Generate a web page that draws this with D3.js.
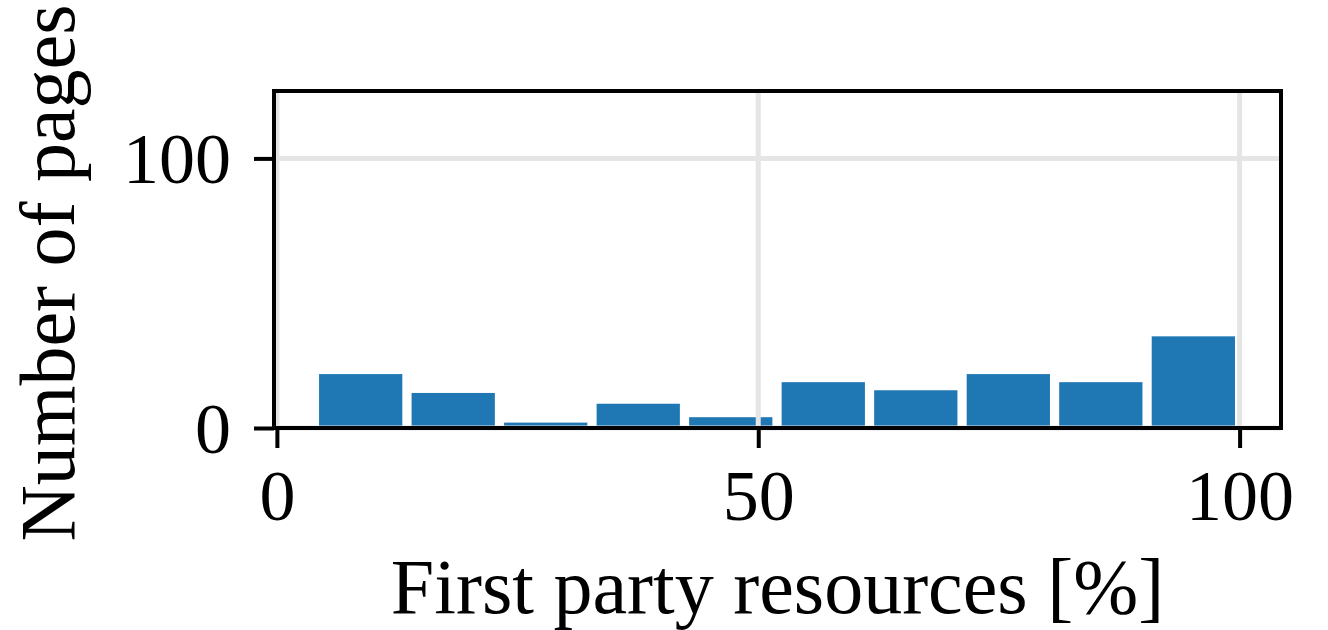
<!DOCTYPE html>
<html>
<head>
<meta charset="utf-8">
<script src="https://cdn.jsdelivr.net/npm/d3@7"></script>
<style>
  body { margin: 0; background: #fff; }
  text { font-family: "Liberation Serif", "DejaVu Serif", serif; fill: #000; }
</style>
</head>
<body>
<div id="chart"></div>
<script>
// histogram data: counts per bin, bins span binRange evenly
const counts = [20, 13, 2, 9, 4, 17, 14, 20, 17, 34];
const binRange = [3.9, 100];
const xTicks = [0, 50, 100];
const yTicks = [0, 100];
const xDomain = [-0.3, 104.3];
const yDomain = [0, 125];
const xLabel = 'First party resources [%]';
const yLabel = 'Number of pages';

const W = 1328, H = 630;
const plot = { left: 274, right: 1281, top: 91, bottom: 428 };

const svg = d3.select('#chart')
  .append('svg')
  .attr('width', W)
  .attr('height', H);

const x = d3.scaleLinear().domain(xDomain).range([plot.left, plot.right]);
const y = d3.scaleLinear().domain(yDomain).range([plot.bottom, plot.top]);

const binW = (binRange[1] - binRange[0]) / counts.length;
const bins = counts.map((c, i) => ({
  x0: binRange[0] + i * binW,
  x1: binRange[0] + (i + 1) * binW,
  count: c,
}));

// bars (rwidth 0.9)
const rw = 0.9;
svg.append('g')
  .selectAll('rect')
  .data(bins)
  .enter()
  .append('rect')
  .attr('x', (d) => x(d.x0 + (1 - rw) / 2 * binW))
  .attr('width', (d) => x(d.x0 + rw * binW) - x(d.x0))
  .attr('y', (d) => y(d.count))
  .attr('height', (d) => y(0) - y(d.count))
  .style('fill', '#1f77b4');

// grid lines, drawn over the bars
const grid = svg.append('g')
  .style('stroke', '#e5e5e5')
  .style('stroke-width', 5);

grid.selectAll('line.vx')
  .data(xTicks)
  .enter()
  .append('line')
  .attr('x1', (d) => x(d)).attr('x2', (d) => x(d))
  .attr('y1', plot.top).attr('y2', plot.bottom);

grid.selectAll('line.hy')
  .data(yTicks)
  .enter()
  .append('line')
  .attr('x1', plot.left).attr('x2', plot.right)
  .attr('y1', (d) => y(d)).attr('y2', (d) => y(d));

// frame
svg.append('rect')
  .attr('x', plot.left)
  .attr('y', plot.top)
  .attr('width', plot.right - plot.left)
  .attr('height', plot.bottom - plot.top)
  .style('fill', 'none')
  .style('stroke', '#000')
  .style('stroke-width', 4);

// axes
const xAxis = svg.append('g')
  .attr('transform', `translate(0,${plot.bottom})`)
  .call(d3.axisBottom(x).tickValues(xTicks).tickSize(20).tickSizeOuter(0).tickPadding(0));

const yAxis = svg.append('g')
  .attr('transform', `translate(${plot.left},0)`)
  .call(d3.axisLeft(y).tickValues(yTicks).tickSize(20).tickSizeOuter(0).tickPadding(0));

[xAxis, yAxis].forEach((a) => {
  a.select('.domain').remove();
  a.selectAll('.tick line').style('stroke', '#000').style('stroke-width', 4);
  a.selectAll('.tick text')
    .style('font-family', '"Liberation Serif", serif')
    .style('font-size', '72px')
    .style('fill', '#000');
});

xAxis.selectAll('.tick text')
  .attr('y', 92)
  .attr('dy', null);

yAxis.selectAll('.tick text')
  .attr('x', -43)
  .attr('dy', '0.34em');

// axis labels
svg.append('text')
  .attr('x', (plot.left + plot.right) / 2)
  .attr('y', 613)
  .attr('text-anchor', 'middle')
  .attr('font-size', 78)
  .text(xLabel);

svg.append('text')
  .attr('transform', 'translate(74,273) rotate(-90)')
  .attr('text-anchor', 'middle')
  .attr('font-size', 78)
  .text(yLabel);
</script>
</body>
</html>
